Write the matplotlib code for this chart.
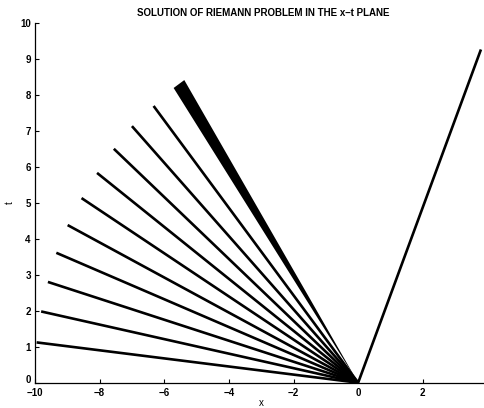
import matplotlib
matplotlib.use("Agg")
import matplotlib.pyplot as plt
import matplotlib.transforms as mtransforms

matplotlib.rcParams['font.family'] = "Liberation Sans"
matplotlib.rcParams['font.size'] = 7
matplotlib.rcParams['font.weight'] = "bold"

# end points of the rarefaction characteristics (all start at the origin)
fan_x = [-9.95, -9.81, -9.60, -9.34, -8.99, -8.56, -8.08, -7.56, -7.00, -6.33]
fan_t = [1.12, 1.98, 2.80, 3.61, 4.38, 5.13, 5.83, 6.50, 7.13, 7.69]

# dense bundle at the head of the fan: its two outer edges
band_x = [-5.71, -5.38]
band_t = [8.19, 8.41]

# contact / shock going to the right
right_x = 3.80
right_t = 9.26

x_ticks = [-10, -8, -6, -4, -2, 0, 2]
t_ticks = list(range(0, 11))

fig = plt.figure(figsize=(4.85, 4.08), dpi=100)
ax = fig.add_axes([35 / 485, 0.062, 452.4 / 485, 0.882])

for x, t in zip(fan_x, fan_t):
    ax.plot([0, x], [0, t], color="black", linewidth=1.9, solid_capstyle="butt")

ax.fill([0, band_x[0], band_x[1]], [0, band_t[0], band_t[1]], color="black", linewidth=0)
ax.plot([0, right_x], [0, right_t], color="black", linewidth=1.9, solid_capstyle="butt")

ax.set_xlim(-10, 4)
ax.set_ylim(0, 10)
ax.set_xticks(x_ticks)
ax.set_yticks(t_ticks)
ax.tick_params(direction="in", length=3, width=0.8, pad=3, labelsize=7)
ax.tick_params(axis="x", pad=4)
for s in ["top", "right"]:
    ax.spines[s].set_visible(False)
for s in ["left", "bottom"]:
    ax.spines[s].set_linewidth(0.9)

# lift the "0" on the t axis a little so it clears the "-10" below it
lbl0 = ax.get_yticklabels()[0]
lbl0.set_transform(lbl0.get_transform() + mtransforms.ScaledTranslation(0, 3 / 72, fig.dpi_scale_trans))

ax.set_xlabel("x", fontsize=7, labelpad=0)
ax.set_ylabel("t", fontsize=7, labelpad=4)
fig.text(263 / 485, 1 - 13 / 408, "SOLUTION OF RIEMANN PROBLEM IN THE x\u2013t PLANE",
         ha="center", va="center", fontsize=7, fontweight="bold")

fig.savefig("out.png", dpi=100)
